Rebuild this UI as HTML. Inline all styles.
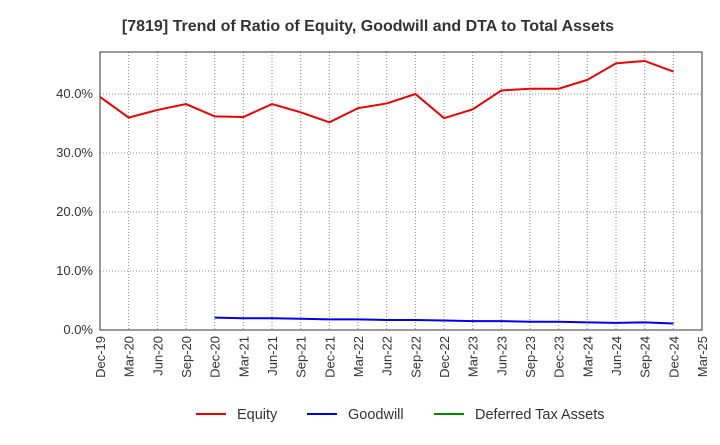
<!DOCTYPE html>
<html><head><meta charset="utf-8"><style>
body{margin:0;background:#fff;font-family:"Liberation Sans",sans-serif}
</style></head><body>
<svg id="chart" width="720" height="440" xmlns="http://www.w3.org/2000/svg">
<text x="368" y="31" text-anchor="middle" font-size="16" font-weight="bold" fill="#333">[7819]  Trend of Ratio of Equity, Goodwill and DTA to Total Assets</text>
<g id="grid"></g><g id="axes"></g><g id="series"></g>
<g>
<g><line x1="196" y1="414" x2="226" y2="414" stroke="#e00" stroke-width="2"/><text x="237" y="419" font-size="14.5" fill="#333">Equity</text></g>
<g><line x1="307" y1="414" x2="337" y2="414" stroke="#00e" stroke-width="2"/><text x="348" y="419" font-size="14.5" fill="#333">Goodwill</text></g>
<g><line x1="434" y1="414" x2="464" y2="414" stroke="#080" stroke-width="2"/><text x="475" y="419" font-size="14.5" fill="#333">Deferred Tax Assets</text></g>
</g>
</svg>
<script>
const categories=["Dec-19","Mar-20","Jun-20","Sep-20","Dec-20","Mar-21","Jun-21","Sep-21","Dec-21","Mar-22","Jun-22","Sep-22","Dec-22","Mar-23","Jun-23","Sep-23","Dec-23","Mar-24","Jun-24","Sep-24","Dec-24","Mar-25"];
const equity=[39.5,36.0,37.3,38.3,36.2,36.1,38.3,36.9,35.2,37.6,38.4,40.0,35.9,37.4,40.6,40.9,40.9,42.4,45.2,45.6,43.8];
const goodwill=[null,null,null,null,2.1,2.0,2.0,1.9,1.8,1.8,1.7,1.7,1.6,1.5,1.5,1.4,1.4,1.3,1.2,1.3,1.1];
const dta=[];
const yTicks=[0,10,20,30,40];
const yTickLabels=["0.0%","10.0%","20.0%","30.0%","40.0%"];
const X0=100,X1=702,Y0=330,YT=52,YMAX=(330-52)/5.9;
const ns="http://www.w3.org/2000/svg";
const xs=i=>X0+i*(X1-X0)/(categories.length-1);
const ys=v=>Y0-v*(Y0-YT)/YMAX;
function mk(tag,attrs,parent){const e=document.createElementNS(ns,tag);for(const k in attrs)e.setAttribute(k,attrs[k]);parent.appendChild(e);return e;}
const grid=document.getElementById('grid'),axes=document.getElementById('axes'),series=document.getElementById('series');
categories.forEach((c,i)=>{
  const l=mk('line',{x1:xs(i),x2:xs(i),y1:YT,y2:Y0,stroke:'#888','stroke-dasharray':'1,2','stroke-width':1},grid);
  
  
  const t=mk('text',{transform:`translate(${xs(i)+5},${Y0+6}) rotate(-90)`,'text-anchor':'end','font-size':13,fill:'#333'},axes);
  t.textContent=c;
  
  
});
yTicks.forEach((v,i)=>{
  const l=mk('line',{x1:X0,x2:X1,y1:ys(v),y2:ys(v),stroke:'#888','stroke-dasharray':'1,2','stroke-width':1},grid);
  
  
  const t=mk('text',{x:X0-7,y:ys(v)+4,'text-anchor':'end','font-size':13,fill:'#333'},axes);
  t.textContent=yTickLabels[i];
  
  
});
const frame=mk('rect',{x:X0,y:YT,width:X1-X0,height:Y0-YT,fill:'none',stroke:'#333','stroke-width':1},axes);


function line(data,color,name){
  const pts=[];data.forEach((v,i)=>{if(v!=null)pts.push(xs(i)+','+ys(v));});
  if(!pts.length)return;
  const p=mk('polyline',{points:pts.join(' '),fill:'none',stroke:color,'stroke-width':2},series);
  
  
}
line(equity,'#e00','equity-line');
line(goodwill,'#00e','goodwill-line');
line(dta,'#080','dta-line');
</script>
</body></html>
